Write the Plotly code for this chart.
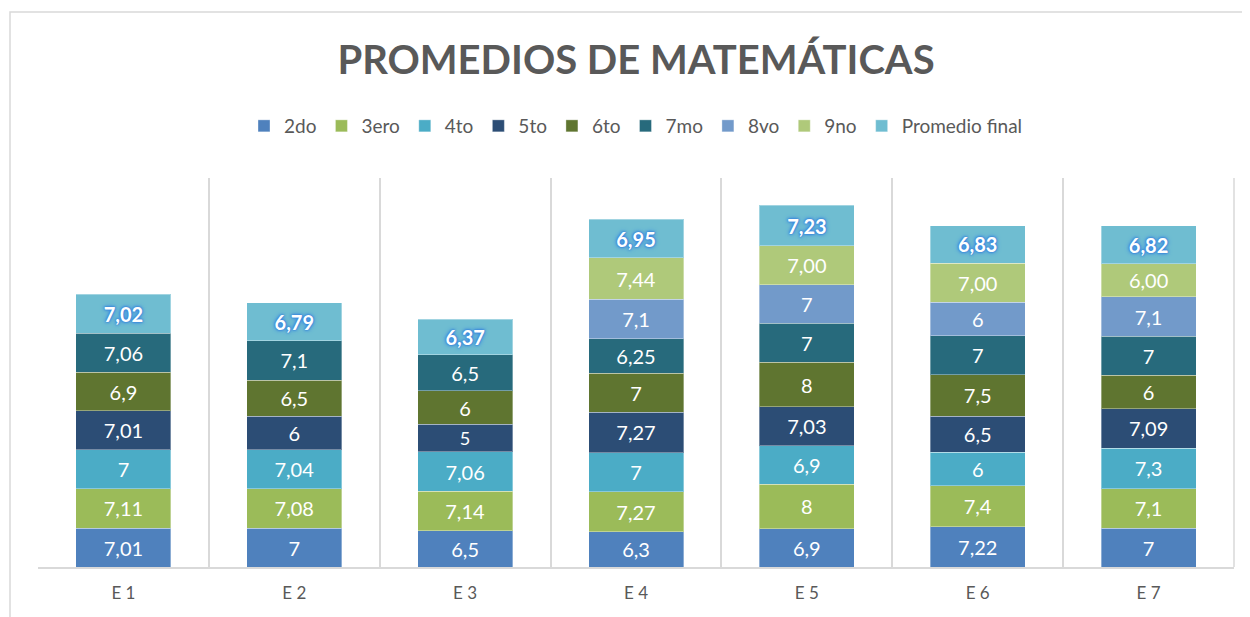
import plotly.graph_objects as go

categories = ["E 1", "E 2", "E 3", "E 4", "E 5", "E 6", "E 7"]
series_names = ["2do", "3ero", "4to", "5to", "6to", "7mo", "8vo", "9no", "Promedio final"]
v_2do = [7.01, 7, 6.5, 6.3, 6.9, 7.22, 7]
v_3ero = [7.11, 7.08, 7.14, 7.27, 8, 7.4, 7.1]
v_4to = [7, 7.04, 7.06, 7, 6.9, 6, 7.3]
v_5to = [7.01, 6, 5, 7.27, 7.03, 6.5, 7.09]
v_6to = [6.9, 6.5, 6, 7, 8, 7.5, 6]
v_7mo = [7.06, 7.1, 6.5, 6.25, 7, 7, 7]
v_8vo = [None, None, None, 7.1, 7, 6, 7.1]
v_9no = [None, None, None, 7.44, 7.00, 7.00, 6.00]
v_final = [7.02, 6.79, 6.37, 6.95, 7.23, 6.83, 6.82]

colors = ["#4F81BD", "#9BBB59", "#4BACC6", "#2C4D75", "#5F7530",
          "#276A7C", "#729ACA", "#AFC97A", "#6FBDD1"]
all_values = [v_2do, v_3ero, v_4to, v_5to, v_6to, v_7mo, v_8vo, v_9no, v_final]
two_dec = {"9no", "Promedio final"}

def fmt(v, fixed):
    if v is None:
        return ""
    s = f"{v:.2f}" if fixed else f"{v:g}"
    return s.replace(".", ",")

FONT = "Lato"
W, H = 1242, 609  # page body has an 8px margin
fig = go.Figure()
for name, vals, col in zip(series_names, all_values, colors):
    fixed = name in two_dec
    tf = dict(family=FONT, size=20, color="white")
    if name == "Promedio final":
        tf = dict(family=FONT, size=20, color="white", weight="bold",
                  shadow="0px 0px 5px #3a86e6, 0px 0px 3px #2a78d8, 0px 0px 2px #2a78d8")
    fig.add_trace(go.Bar(
        x=categories, y=vals, name=name,
        marker=dict(color=col, line=dict(color="rgba(255,255,255,0.35)", width=1)),
        text=[fmt(v, fixed) for v in vals],
        textposition="inside", insidetextanchor="middle",
        textfont=tf, textangle=0, hoverinfo="skip",
        cliponaxis=False,
    ))

fig.update_layout(
    barmode="stack",
    bargap=0.444,
    width=W, height=H,
    margin=dict(l=30, r=16, t=170, b=50),
    paper_bgcolor="white", plot_bgcolor="white",
    title=dict(text="PROMEDIOS DE MATEMÁTICAS", x=0.5, xanchor="center",
               y=1 - 52 / H, yanchor="middle", xref="paper",
               font=dict(family=FONT, size=40, color="#595959", weight="bold")),
    legend=dict(orientation="h", x=0.5, xanchor="center", y=1 - 118 / H, yref="container",
                yanchor="middle", font=dict(family=FONT, size=19, color="#595959"),
                traceorder="normal"),
    xaxis=dict(type="category", tickson="boundaries", showgrid=True, gridcolor="#D9D9D9",
               gridwidth=1.5, ticks="", showline=True, linecolor="#D9D9D9", linewidth=1.5,
               mirror=False, tickfont=dict(family=FONT, size=17, color="#595959"),
               ticklabelstandoff=10, fixedrange=True),
    yaxis=dict(range=[0, 70], showgrid=False, showticklabels=False, zeroline=False,
               showline=False, ticks="", fixedrange=True),
    showlegend=True,
)
# right edge line of plot area
fig.add_shape(type="line", xref="paper", yref="paper", x0=1, x1=1, y0=0, y1=1,
              line=dict(color="#D9D9D9", width=1.5))
# outer chart border
fig.add_shape(type="rect", xref="paper", yref="paper",
              x0=(2 - 30) / 1196, x1=(1250 - 30) / 1196,
              y0=(50 - 615) / 389, y1=(H - 4 - 50) / 389,
              line=dict(color="#D9D9D9", width=1.5), layer="below")

fig.write_html("out.html")
